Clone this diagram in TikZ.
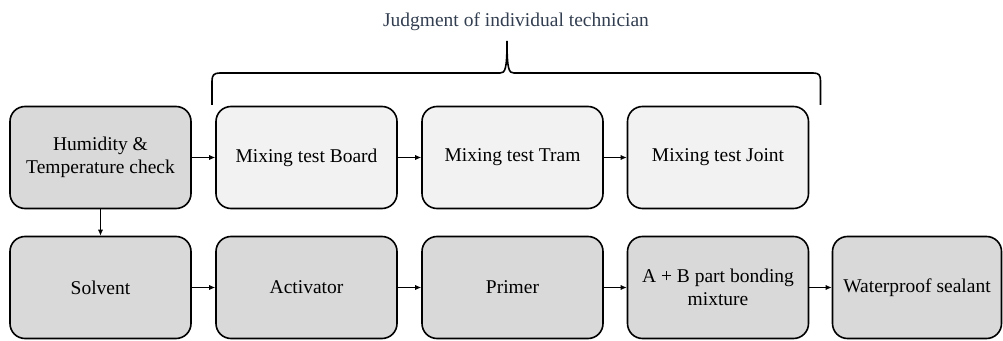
\documentclass[tikz,border=0pt]{standalone}
\usepackage{fontspec}
\newfontfamily\tnr{LiberationSerif-Regular.ttf}
\usetikzlibrary{arrows.meta}
\definecolor{boxgray}{HTML}{D9D9D9}
\definecolor{boxlight}{HTML}{F2F2F2}
\definecolor{titlecol}{RGB}{50,62,80}
\begin{document}
\begin{tikzpicture}[x=1pt,y=1pt,
  box/.style={draw=black, line width=1.6pt, rounded corners=15pt, minimum width=181pt, minimum height=102pt, align=center, font=\tnr\fontsize{19.5}{23}\selectfont, inner sep=2pt},
  graybox/.style={box, fill=boxgray},
  lightbox/.style={box, fill=boxlight},
  conn/.style={line width=0.8pt, -{Latex[length=6pt,width=5pt]}}
]
\useasboundingbox (0,0) rectangle (1003,340);
% top row
\node[graybox] (hum) at (100.5,182.5) {Humidity \&\\Temperature check};
\node[lightbox] (board) at (306.5,182.5) {Mixing test Board};
\node[lightbox] (tram) at (512.5,182.5) {Mixing test Tram};
\node[lightbox] (joint) at (718,182.5) {Mixing test Joint};
% bottom row
\node[graybox] (solv) at (100.5,52.5) {Solvent};
\node[graybox] (act) at (306.5,52.5) {Activator};
\node[graybox] (prim) at (512.5,52.5) {Primer};
\node[graybox] (ab) at (718,52.5) {A + B part bonding\\mixture};
\node[graybox, minimum width=169pt] (wp) at (917,52.5) {Waterproof sealant};
% title and brace
\node[text=titlecol, font=\tnr\fontsize{19.5}{23}\selectfont] (title) at (516,318) {Judgment of individual technician};
\coordinate (bl) at (212,235);
\coordinate (br) at (820.5,235);
\coordinate (tip) at (507,299);
\draw[line width=1.6pt] (bl) -- (212,259) .. controls (212,265) and (214,267) .. (220,267)
  -- (500,267) .. controls (505,267) and (507,270) .. (tip)
  .. controls (507,270) and (509,267) .. (514,267) -- (813,267)
  .. controls (819,267) and (820.5,265) .. (820.5,259) -- (br);
% connectors
\draw[conn] (hum) -- (board);
\draw[conn] (board) -- (tram);
\draw[conn] (tram) -- (joint);
\draw[conn] (hum) -- (solv);
\draw[conn] (solv) -- (act);
\draw[conn] (act) -- (prim);
\draw[conn] (prim) -- (ab);
\draw[conn] (ab) -- (wp);
\end{tikzpicture}
\end{document}
